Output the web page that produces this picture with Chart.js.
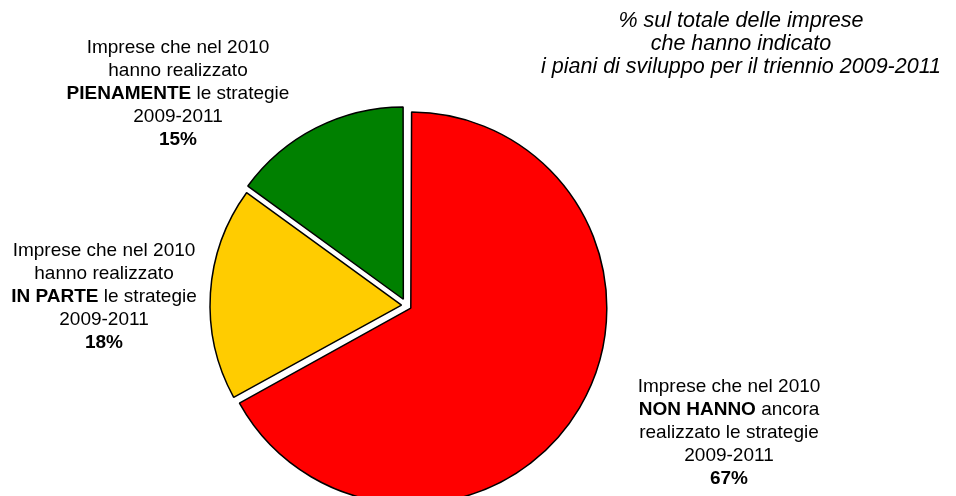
<!DOCTYPE html>
<html>
<head>
<meta charset="utf-8">
<script src="https://cdn.jsdelivr.net/npm/chart.js@4/dist/chart.umd.min.js"></script>
<style>
    html, body { margin: 0; padding: 0; background: #fff; }
    #wrap { position: relative; width: 956px; height: 496px; overflow: hidden; }
    #chart { position: absolute; left: 0; top: 0; }
    .lbl {
        position: absolute;
        font-family: "Liberation Sans", Arial, sans-serif;
        font-size: 19px;
        line-height: 23px;
        color: #000;
        text-align: center;
        white-space: nowrap;
        transform: translateX(-50%);
    }
    .title {
        position: absolute;
        font-family: "Liberation Sans", Arial, sans-serif;
        font-style: italic;
        font-size: 21.5px;
        line-height: 23px;
        color: #000;
        text-align: center;
        white-space: nowrap;
        transform: translateX(-50%);
    }
</style>
</head>
<body>
<div id="wrap">
    <canvas id="chart" width="956" height="496"></canvas>
</div>
<script>
// categories (clockwise from 12 o'clock)
const categories = ['Non hanno ancora realizzato', 'Realizzato in parte', 'Realizzato pienamente'];
const values = [67, 18, 15];
const sliceColors = ['#FF0000', '#FFCC00', '#008000'];

// label text, one array of lines per slice (percentage appended from values)
const labelLines = [
    ['Imprese che nel 2010', '<b>NON HANNO</b> ancora', 'realizzato le strategie', '2009-2011'],
    ['Imprese che nel 2010', 'hanno realizzato', '<b>IN PARTE</b> le strategie', '2009-2011'],
    ['Imprese che nel 2010', 'hanno realizzato', '<b>PIENAMENTE</b> le strategie', '2009-2011']
];
// label anchor: centre x, top y
const labelPos = [[729, 374], [104, 238], [178, 35]];

const titleLines = ['% sul totale delle imprese', 'che hanno indicato', 'i piani di sviluppo per il triennio 2009-2011'];

function addLabels() {
    const wrap = document.getElementById('wrap');
    labelLines.forEach((lines, i) => {
        const div = document.createElement('div');
        div.className = 'lbl';
        div.style.left = labelPos[i][0] + 'px';
        div.style.top = labelPos[i][1] + 'px';
        div.innerHTML = lines.concat(['<b>' + values[i] + '%</b>']).join('<br>');
        wrap.appendChild(div);
    });

    const t = document.createElement('div');
    t.className = 'title';
    t.style.left = '741px';
    t.style.top = '9px';
    t.innerHTML = titleLines.join('<br>');
    wrap.appendChild(t);
}

const ctx = document.getElementById('chart').getContext('2d');
new Chart(ctx, {
    type: 'pie',
    data: {
        labels: categories,
        datasets: [{
            data: values,
            backgroundColor: sliceColors,
            borderColor: '#000000',
            borderWidth: 1.5,
            // exploded slices
            offset: [20, 20, 28],
            radius: 191,
            clip: false
        }]
    },
    options: {
        responsive: false,
        animation: false,
        layout: {
            padding: { left: 0, right: 143, top: 115, bottom: 0 }
        },
        plugins: {
            legend: { display: false },
            tooltip: { enabled: false }
        }
    }
});

addLabels();
</script>
</body>
</html>
